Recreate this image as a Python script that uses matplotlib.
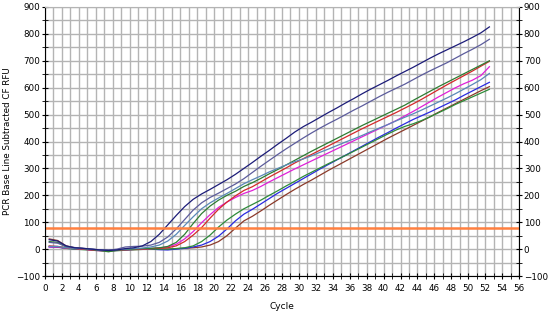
import numpy as np
import matplotlib
matplotlib.use("Agg")
import matplotlib.pyplot as plt
from matplotlib.ticker import MultipleLocator

# plotted cycle positions (cycles 1..53 drawn half a cycle to the left)
cycles = np.arange(1, 54) - 0.5

navy = [35, 30, 12, 5, 3, 0, -3, -5, -3, 2, 5, 12, 28, 55, 90, 125, 158, 185, 205, 222,
        240, 258, 278, 300, 322, 345, 367, 390, 412, 435, 455, 472, 490, 508, 525, 543,
        560, 578, 595, 611, 627, 644, 660, 676, 693, 710, 726, 741, 756, 771, 787, 804, 826]
slate = [25, 22, 10, 6, 3, 0, -3, -4, 0, 8, 10, 11, 15, 25, 45, 75, 110, 145, 172, 192,
         208, 225, 242, 262, 285, 308, 330, 352, 373, 393, 413, 432, 450, 467, 483, 500,
         517, 533, 550, 567, 583, 598, 613, 630, 647, 663, 678, 693, 710, 727, 743, 760, 780]
steel = [10, 10, 5, 3, 2, 0, -3, -4, -2, 0, 2, 4, 8, 15, 30, 55, 88, 120, 150, 172,
         190, 207, 225, 243, 258, 272, 287, 300, 313, 325, 335, 347, 360, 372, 385, 398,
         410, 423, 437, 450, 463, 477, 490, 503, 517, 532, 547, 562, 578, 595, 612, 630, 653]
green = [28, 25, 8, 4, 2, -2, -5, -10, -4, -2, 0, 2, 3, 5, 10, 25, 55, 95, 132, 160,
         182, 200, 215, 233, 247, 263, 280, 296, 313, 330, 347, 364, 380, 396, 412, 428,
         444, 460, 475, 490, 505, 520, 535, 553, 570, 587, 604, 620, 636, 652, 668, 684, 700]
red = [12, 10, 5, 3, 0, -3, -5, -5, -4, -2, 0, 0, 2, 3, 5, 12, 28, 52, 80, 115,
       148, 175, 198, 218, 232, 250, 268, 285, 302, 320, 336, 352, 368, 384, 400, 416,
       432, 448, 463, 478, 493, 508, 524, 540, 557, 575, 593, 611, 628, 645, 662, 680, 698]
magenta = [8, 8, 4, 2, 0, -4, -6, -6, -5, -3, -1, 0, 2, 4, 8, 18, 38, 65, 98, 128,
           155, 175, 192, 207, 218, 233, 250, 266, 282, 298, 313, 328, 343, 358, 373, 388,
           403, 418, 433, 448, 463, 478, 495, 512, 530, 548, 566, 583, 600, 615, 628, 645, 678]
green2 = [10, 8, 3, 0, -2, -4, -6, -8, -6, -4, -2, -1, 0, 0, 0, 2, 5, 12, 28, 52,
          82, 108, 130, 150, 166, 182, 200, 217, 235, 252, 270, 286, 302, 318, 333, 348,
          364, 380, 396, 412, 428, 443, 456, 466, 478, 492, 507, 522, 538, 552, 566, 580, 594]
blue = [8, 7, 3, 1, 0, -2, -4, -5, -4, -2, -1, 0, 0, -2, -3, 0, 3, 8, 15, 28,
        48, 75, 105, 130, 148, 168, 188, 208, 226, 244, 262, 280, 298, 315, 332, 349,
        366, 383, 400, 417, 433, 450, 466, 482, 496, 510, 525, 540, 555, 572, 588, 604, 620]
brown = [38, 32, 12, 5, 2, -1, -3, -5, -4, -3, -2, -1, 0, 0, 0, 2, 3, 5, 8, 15,
         28, 50, 78, 105, 122, 142, 163, 183, 203, 222, 240, 257, 275, 293, 310, 327,
         344, 361, 378, 395, 412, 428, 444, 460, 476, 492, 509, 525, 541, 557, 573, 589, 604]

series = [
    (brown, "#8b3a2a"),
    (blue, "#2a2ae0"),
    (green2, "#2e8b3a"),
    (magenta, "#e020d8"),
    (red, "#d42a2a"),
    (green, "#2e7d32"),
    (steel, "#5a88b8"),
    (slate, "#5c5c9c"),
    (navy, "#1c1c78"),
]
threshold = 80

fig = plt.figure(figsize=(5.48, 3.18), dpi=100)
ax = fig.add_axes([0.0821, 0.132, 0.865, 0.846])

ax.set_xlim(0, 56)
ax.set_ylim(-100, 900)
ax.xaxis.set_major_locator(MultipleLocator(2))
ax.xaxis.set_minor_locator(MultipleLocator(1))
ax.yaxis.set_major_locator(MultipleLocator(100))
ax.yaxis.set_minor_locator(MultipleLocator(50))
ax.grid(True, which="both", color="#b4b4b4", linewidth=1.0)
ax.set_axisbelow(True)

for vals, col in series:
    ax.plot(cycles, vals, color=col, linewidth=0.9)

ax.axhline(threshold, color="#ff8040", linewidth=1.8)

for s in ["left", "right", "bottom"]:
    ax.spines[s].set_color("black")
    ax.spines[s].set_linewidth(0.8)
ax.spines["top"].set_color("#b4b4b4")

ax.tick_params(which="both", direction="inout", labelsize=6.3, color="black",
               left=True, right=True, labelright=True, bottom=True, top=False)
ax.tick_params(which="major", length=5)
ax.tick_params(which="minor", length=4)
ax.tick_params(axis="y", pad=1)
ax.tick_params(axis="x", pad=3)

ax.set_xlabel("Cycle", fontsize=6.5, labelpad=7)
ax.set_ylabel("PCR Base Line Subtracted CF RFU", fontsize=6.3, labelpad=3)

fig.savefig("out.png", dpi=100)
